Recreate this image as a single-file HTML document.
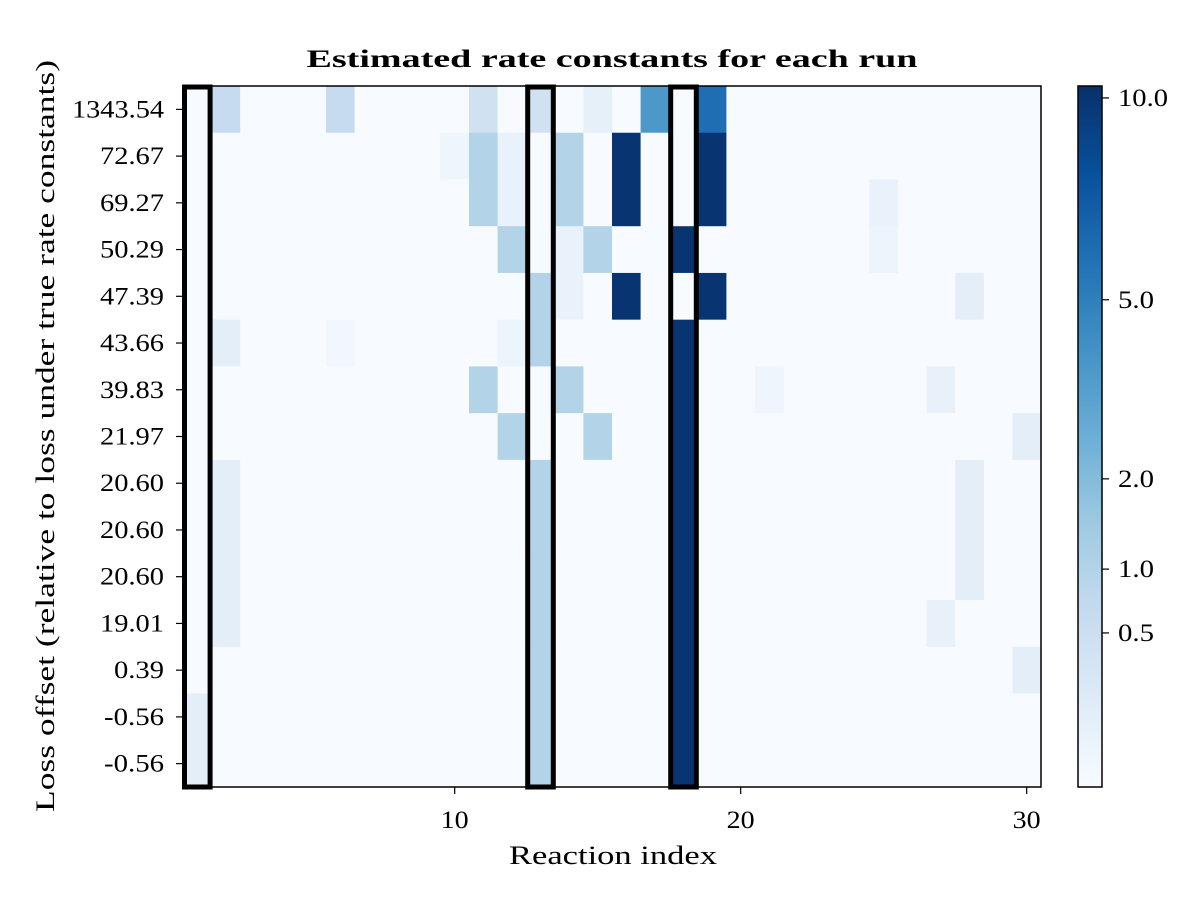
<!DOCTYPE html>
<html><head><meta charset="utf-8"><style>
body{margin:0;background:#fff;}
svg text{font-family:"Liberation Serif",serif;fill:#000;}
</style></head><body>
<svg id="chart" width="1200" height="900" xmlns="http://www.w3.org/2000/svg">
<defs><linearGradient id="cbgrad" x1="0" y1="1" x2="0" y2="0">
<stop offset="0" stop-color="#f7fbff"/><stop offset="0.125" stop-color="#deebf7"/><stop offset="0.25" stop-color="#c6dbef"/><stop offset="0.375" stop-color="#9ecae1"/><stop offset="0.5" stop-color="#6baed6"/><stop offset="0.625" stop-color="#4292c6"/><stop offset="0.75" stop-color="#2171b5"/><stop offset="0.875" stop-color="#08519c"/><stop offset="1" stop-color="#08306b"/>
</linearGradient></defs>
<text x="612" y="67" text-anchor="middle" font-size="25" font-weight="bold" textLength="611" lengthAdjust="spacingAndGlyphs">Estimated rate constants for each run</text>
<g id="cells"></g>
<g id="boxes"></g>
<rect x="183" y="86" width="858" height="701" fill="none" stroke="#000" stroke-width="1.5"/>
<g id="yaxis"></g>
<g id="xaxis"></g>
<text x="613" y="864" text-anchor="middle" font-size="26" textLength="208" lengthAdjust="spacingAndGlyphs">Reaction index</text>
<text transform="translate(54,436) rotate(-90)" text-anchor="middle" font-size="26" textLength="752" lengthAdjust="spacingAndGlyphs">Loss offset (relative to loss under true rate constants)</text>
<rect x="1078" y="86" width="24" height="701" fill="url(#cbgrad)" stroke="#000" stroke-width="1.5"/>
<g id="cbticks"></g>
</svg>
<script>
const rowLabels=["1343.54","72.67","69.27","50.29","47.39","43.66","39.83","21.97","20.60","20.60","20.60","19.01","0.39","-0.56","-0.56"];
const xTicks=[10,20,30];
const cbTickValues=[10.0,5.0,2.0,1.0,0.5];
const highlightedColumns=[1,13,18];
const vmax=10.35;
// sparse cell values: [row, column(1-based), value]
const cellValues=[
[0,2,0.65],[0,6,0.65],[0,11,0.41],[0,13,0.41],[0,15,0.08],[0,17,3.7],[0,19,6.0],
[1,10,0.02],[1,11,1.0],[1,12,0.05],[1,14,1.0],[1,16,10],[1,19,10],
[2,11,1.0],[2,12,0.05],[2,14,1.0],[2,16,10],[2,19,10],[2,25,0.05],
[3,12,1.0],[3,14,0.05],[3,15,1.0],[3,18,10],[3,25,0.03],
[4,13,1.0],[4,14,0.05],[4,16,10],[4,19,10],[4,28,0.1],
[5,2,0.1],[5,6,0.01],[5,12,0.03],[5,13,1.0],[5,18,10],
[6,11,1.0],[6,14,1.0],[6,18,10],[6,21,0.02],[6,27,0.06],
[7,12,1.0],[7,15,1.0],[7,18,10],[7,30,0.1],
[8,2,0.1],[8,13,1.0],[8,18,10],[8,28,0.1],
[9,2,0.1],[9,13,1.0],[9,18,10],[9,28,0.1],
[10,2,0.1],[10,13,1.0],[10,18,10],[10,28,0.1],
[11,2,0.1],[11,13,1.0],[11,18,10],[11,27,0.06],
[12,13,1.0],[12,18,10],[12,30,0.1],
[13,1,0.1],[13,13,1.0],[13,18,10],
[14,1,0.1],[14,13,1.0],[14,18,10]
];
const NS="http://www.w3.org/2000/svg";
const nCols=30,nRows=15,X0=183,Y0=86,W=858,H=701;
const cw=W/nCols,rh=H/nRows;
const xPos=c=>X0+(c-1)*cw;
const yPos=r=>Y0+r*rh;
const norm=v=>Math.min(1,Math.sqrt(Math.max(0,v)/vmax));
const stops=["#f7fbff","#deebf7","#c6dbef","#9ecae1","#6baed6","#4292c6","#2171b5","#08519c","#08306b"].map(h=>[1,3,5].map(i=>parseInt(h.substr(i,2),16)));
function blues(f){const p=f*8,i=Math.min(7,Math.floor(p)),t=p-i;const a=stops[i],b=stops[i+1];return "rgb("+a.map((x,k)=>Math.round(x+(b[k]-x)*t)).join(",")+")";}
function mk(tag,attrs,parent){const e=document.createElementNS(NS,tag);for(const k in attrs)e.setAttribute(k,attrs[k]);parent.appendChild(e);return e;}
function txtLen(s){let w=0;for(const ch of s){w+= ch==='.'?8:(ch==='-'?10:14);}return w;}
const grid=[];for(let r=0;r<nRows;r++){grid.push(new Array(nCols).fill(0));}
cellValues.forEach(([r,c,v])=>{grid[r][c-1]=v;});
const cells=document.getElementById('cells');
for(let r=0;r<nRows;r++)for(let c=1;c<=nCols;c++){
 const e=mk('rect',{x:xPos(c),y:yPos(r),width:cw+0.5,height:rh+0.5,fill:blues(norm(grid[r][c-1]))},cells);
 
 
}
const boxes=document.getElementById('boxes');
highlightedColumns.forEach(c=>{
 const e=mk('rect',{x:xPos(c)+1.5,y:Y0+1,width:cw-3,height:H-1,fill:'none',stroke:'#000','stroke-width':5},boxes);
 
 
});
const ya=document.getElementById('yaxis');
rowLabels.forEach((l,r)=>{
 const y=yPos(r)+rh/2;
 mk('line',{x1:176,x2:183,y1:y,y2:y,stroke:'#000','stroke-width':1.2},ya);
 const t=mk('text',{x:164,y:y+8,'text-anchor':'end','font-size':25,textLength:txtLen(l),lengthAdjust:'spacingAndGlyphs'},ya);t.textContent=l;
 
 
});
const xa=document.getElementById('xaxis');
xTicks.forEach(v=>{
 const x=xPos(v)+cw/2;
 mk('line',{x1:x,x2:x,y1:787,y2:794,stroke:'#000','stroke-width':1.2},xa);
 const t=mk('text',{x:x,y:828,'text-anchor':'middle','font-size':25,textLength:txtLen(String(v)),lengthAdjust:'spacingAndGlyphs'},xa);t.textContent=v;
 
 
});
const cb=document.getElementById('cbticks');
cbTickValues.forEach(v=>{
 const y=787-norm(v)*H;
 mk('line',{x1:1102,x2:1109,y1:y,y2:y,stroke:'#000','stroke-width':1.2},cb);
 const s=v.toFixed(1);
 const t=mk('text',{x:1118,y:y+8,'font-size':25,textLength:txtLen(s),lengthAdjust:'spacingAndGlyphs'},cb);t.textContent=s;
 
 
});
</script>
</body></html>
